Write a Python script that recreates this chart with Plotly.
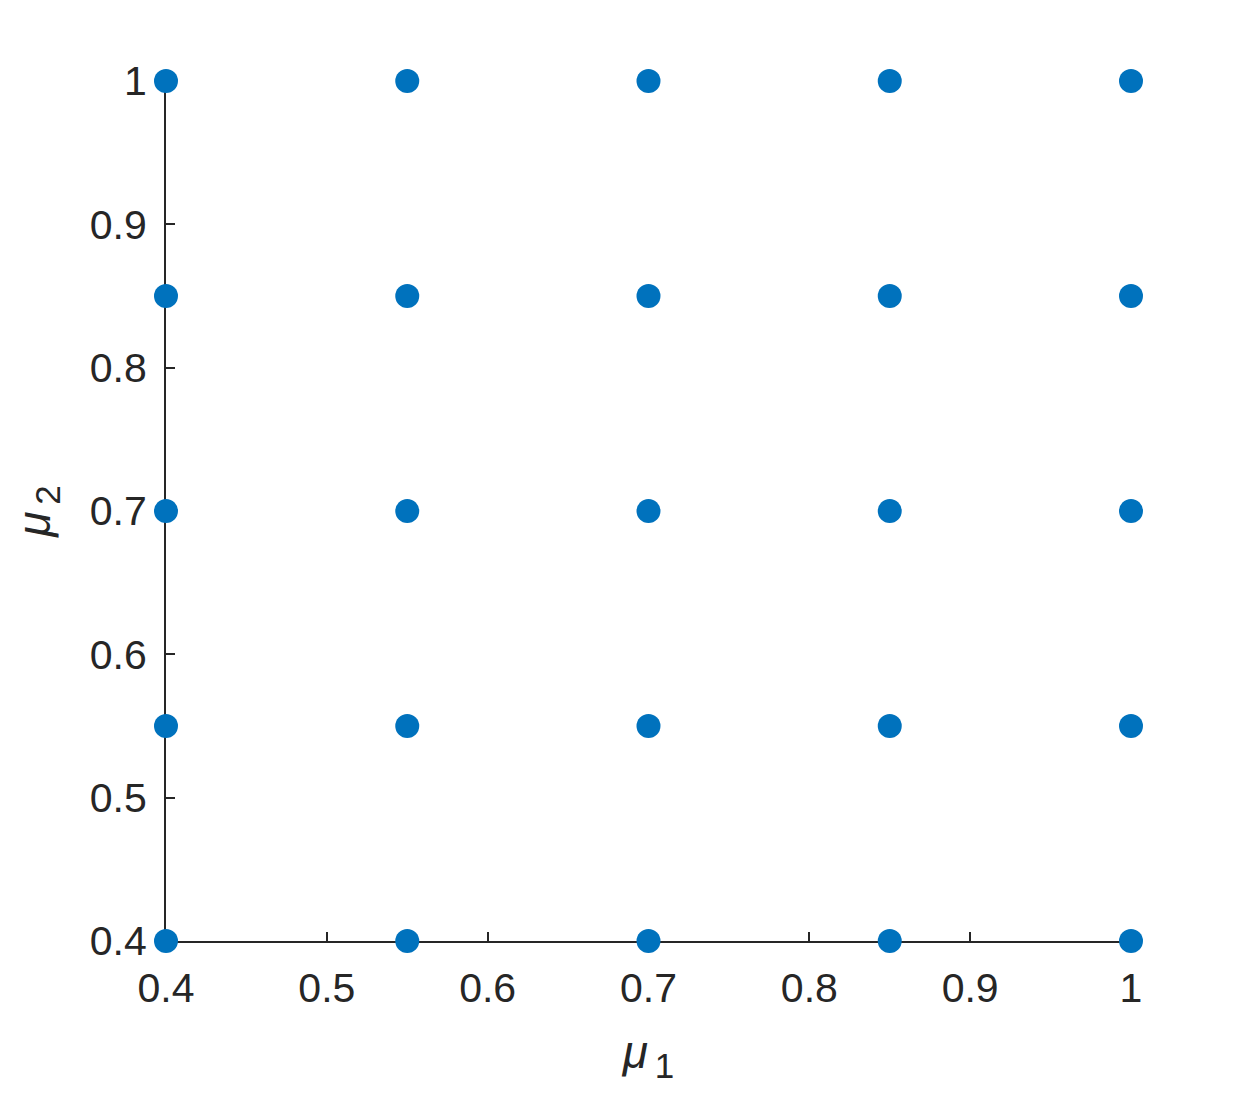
import plotly.graph_objects as go

# grid of parameter values
mu1_vals = [0.4, 0.55, 0.7, 0.85, 1.0]
mu2_vals = [0.4, 0.55, 0.7, 0.85, 1.0]
tick_vals = [0.4, 0.5, 0.6, 0.7, 0.8, 0.9, 1.0]
tick_text = ["0.4", "0.5", "0.6", "0.7", "0.8", "0.9", "1"]

xs = [a for a in mu1_vals for b in mu2_vals]
ys = [b for a in mu1_vals for b in mu2_vals]

TXT = "#262626"
FONT = "Liberation Sans, Arial, sans-serif"

fig = go.Figure()
fig.add_trace(go.Scatter(
    x=xs, y=ys, mode="markers",
    marker=dict(size=24, color="#0072BD", line=dict(width=0)),
    cliponaxis=False, showlegend=False, hoverinfo="skip"
))

axis_common = dict(
    range=[0.4, 1.0],
    tickvals=tick_vals, ticktext=tick_text,
    ticks="inside", ticklen=9, tickwidth=2, tickcolor=TXT,
    showline=True, linecolor=TXT, linewidth=2,
    showgrid=False, zeroline=False,
    tickfont=dict(family=FONT, size=41, color=TXT),
    layer="below traces",
)

# MATLAB-style subscript: nearly full size, pushed well below the baseline
sub = "<sub><span style='font-size:35px'>\u2009{}</span></sub>"

fig.update_layout(
    width=1250, height=1094,
    paper_bgcolor="white", plot_bgcolor="white",
    margin=dict(l=158, r=127, t=73, b=161),
    xaxis=dict(**axis_common, ticklabelstandoff=10,
               title=dict(text="<i>μ</i>" + sub.format("1"), standoff=26,
                          font=dict(family=FONT, size=46, color=TXT))),
    yaxis=dict(**axis_common, ticklabelstandoff=9,
               title=dict(text="<i>μ</i>" + sub.format("2"), standoff=26,
                          font=dict(family=FONT, size=46, color=TXT))),
)

fig.write_html("out.html")
